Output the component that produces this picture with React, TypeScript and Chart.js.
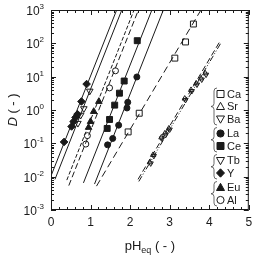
import { useEffect, useRef } from 'react';
import { Chart, registerables } from 'chart.js';

Chart.register(...registerables);

const FONT = '"Liberation Sans", Arial, Helvetica, sans-serif';
const INK = '#1a1a1a';

// Measured distribution ratios: pH_eq and D for each metal
const caPH = [1.95, 2.23, 3.13, 3.4, 3.6];
const caD = [0.22, 0.8, 36, 110, 380];
const srPH = [2.5, 2.58, 2.79, 2.88, 2.98, 3.38, 3.54, 3.67, 3.79, 3.9];
const srD = [0.027, 0.045, 0.15, 0.2, 0.28, 2.2, 4.0, 6.3, 8.9, 12.6];
const baPH = [2.52, 2.6, 2.8, 2.9, 3.0, 3.4, 3.56, 3.69, 3.81, 3.92];
const baD = [0.025, 0.042, 0.14, 0.18, 0.26, 2.0, 3.7, 5.8, 8.2, 11.5];
const laPH = [1.43, 1.56, 1.71, 1.92, 1.94, 2.17];
const laD = [0.09, 0.14, 0.35, 1.15, 1.7, 9.8];
const cePH = [1.42, 1.48, 1.61, 1.73, 1.85, 2.18];
const ceD = [0.28, 0.52, 1.4, 3.2, 7.4, 120];
const tbPH = [0.68, 0.75, 0.83, 0.98];
const tbD = [0.4, 0.7, 1.1, 3.7];
const yPH = [0.33, 0.52, 0.57, 0.62, 0.67, 0.77, 0.9];
const yD = [0.11, 0.32, 0.45, 0.6, 0.75, 1.8, 6.0];
const euPH = [0.95, 1.0, 1.08, 1.21];
const euD = [0.3, 0.45, 0.9, 1.8];
const alPH = [0.88, 0.92, 1.48, 1.63];
const alD = [0.095, 0.17, 4.6, 15];

// Correlation lines: [start, end] in pH_eq and D
const yLinePH = [0, 1.66];
const yLineD = [0.0105, 1000];
const tbLinePH = [0.1, 1.79];
const tbLineD = [0.0083, 1000];
const euLinePH = [0.4, 2.1];
const euLineD = [0.0079, 1000];
const alLinePH = [0.45, 2.21];
const alLineD = [0.0054, 1000];
const ceLinePH = [0.82, 2.55];
const ceLineD = [0.0065, 1000];
const laLinePH = [1.1, 2.84];
const laLineD = [0.006, 1000];
const caLinePH = [1.15, 3.79];
const caLineD = [0.0052, 1000];
const srLinePH = [2.2, 4.28];
const srLineD = [0.0083, 120];
const baLinePH = [2.22, 4.3];
const baLineD = [0.0072, 105];

// Axis tick labels
const xTicks = [0, 1, 2, 3, 4, 5];
const yExps = [-3, -2, -1, 0, 1, 2, 3];

type Kind = 'square' | 'circle' | 'triUp' | 'triDown' | 'diamond';

const legendGroups: { label: string; kind: Kind; filled: boolean }[][] = [
  [
    { label: 'Ca', kind: 'square', filled: false },
    { label: 'Sr', kind: 'triUp', filled: false },
    { label: 'Ba', kind: 'triDown', filled: false },
  ],
  [
    { label: 'La', kind: 'circle', filled: true },
    { label: 'Ce', kind: 'square', filled: true },
  ],
  [
    { label: 'Tb', kind: 'triDown', filled: false },
    { label: 'Y', kind: 'diamond', filled: true },
  ],
  [
    { label: 'Eu', kind: 'triUp', filled: true },
    { label: 'Al', kind: 'circle', filled: false },
  ],
];

const pts = (xs: number[], ys: number[]) => xs.map((x, i) => ({ x, y: ys[i] }));

function pointSet(xs: number[], ys: number[], style: string, filled: boolean, radius: number, rotation = 0) {
  return {
    data: pts(xs, ys),
    showLine: false,
    pointStyle: style,
    pointRotation: rotation,
    pointRadius: radius,
    pointBorderWidth: 1,
    pointBorderColor: INK,
    pointBackgroundColor: filled ? INK : 'rgba(255,255,255,0)',
  };
}

function lineSet(xs: number[], ys: number[], dash: number[]) {
  return {
    data: pts(xs, ys),
    showLine: true,
    pointRadius: 0,
    borderColor: INK,
    borderWidth: 1,
    borderDash: dash,
    fill: false,
  };
}

function drawMarker(ctx: CanvasRenderingContext2D, kind: Kind, x: number, y: number, filled: boolean) {
  ctx.beginPath();
  if (kind === 'square') ctx.rect(x - 3.5, y - 3.5, 7, 7);
  else if (kind === 'circle') ctx.arc(x, y, 3.6, 0, Math.PI * 2);
  else if (kind === 'triUp') {
    ctx.moveTo(x, y - 4.2);
    ctx.lineTo(x + 4, y + 3);
    ctx.lineTo(x - 4, y + 3);
    ctx.closePath();
  } else if (kind === 'triDown') {
    ctx.moveTo(x, y + 4.2);
    ctx.lineTo(x + 4, y - 3);
    ctx.lineTo(x - 4, y - 3);
    ctx.closePath();
  } else {
    ctx.moveTo(x, y - 4.2);
    ctx.lineTo(x + 4, y);
    ctx.lineTo(x, y + 4.2);
    ctx.lineTo(x - 4, y);
    ctx.closePath();
  }
  ctx.fillStyle = filled ? INK : '#ffffff';
  ctx.fill();
  ctx.lineWidth = 1;
  ctx.strokeStyle = INK;
  ctx.stroke();
}

function drawBrace(ctx: CanvasRenderingContext2D, x: number, top: number, bottom: number) {
  const mid = (top + bottom) / 2;
  const w = 3;
  ctx.beginPath();
  ctx.moveTo(x + w, top);
  ctx.quadraticCurveTo(x, top, x, top + 3);
  ctx.lineTo(x, mid - 3);
  ctx.quadraticCurveTo(x, mid, x - w, mid);
  ctx.quadraticCurveTo(x, mid, x, mid + 3);
  ctx.lineTo(x, bottom - 3);
  ctx.quadraticCurveTo(x, bottom, x + w, bottom);
  ctx.lineWidth = 0.8;
  ctx.strokeStyle = '#444';
  ctx.stroke();
}

const framePlugin = {
  id: 'frameTicks',
  afterDraw(chart: any) {
    const { ctx, chartArea: a, scales } = chart;
    const xs = scales.x;
    const ys = scales.y;
    ctx.save();
    ctx.strokeStyle = INK;
    ctx.lineWidth = 1;
    ctx.strokeRect(a.left + 0.5, a.top + 0.5, a.right - a.left - 1, a.bottom - a.top - 1);

    // x ticks (major every 1, minor every 0.2), bottom and top, pointing inward
    ctx.beginPath();
    for (let i = 0; i <= 25; i++) {
      const v = i * 0.2;
      const px = Math.round(xs.getPixelForValue(v)) + 0.5;
      const len = i % 5 === 0 ? 5 : 3;
      ctx.moveTo(px, a.bottom);
      ctx.lineTo(px, a.bottom - len);
      ctx.moveTo(px, a.top);
      ctx.lineTo(px, a.top + len);
    }
    // y ticks: decades and minor 2..9
    for (let e = -3; e <= 3; e++) {
      for (let m = 1; m <= 9; m++) {
        if (e === 3 && m > 1) break;
        const v = m * Math.pow(10, e);
        const py = Math.round(ys.getPixelForValue(v)) + 0.5;
        const len = m === 1 ? 5 : 3;
        ctx.moveTo(a.left, py);
        ctx.lineTo(a.left + len, py);
        ctx.moveTo(a.right, py);
        ctx.lineTo(a.right - len, py);
      }
    }
    ctx.stroke();

    // tick labels
    ctx.fillStyle = INK;
    ctx.font = `12px ${FONT}`;
    ctx.textAlign = 'center';
    ctx.textBaseline = 'top';
    xTicks.forEach((t) => {
      ctx.fillText(String(t), xs.getPixelForValue(t), a.bottom + 7);
    });
    ctx.textBaseline = 'alphabetic';
    yExps.forEach((e) => {
      const py = ys.getPixelForValue(Math.pow(10, e));
      const sup = String(e);
      ctx.font = `8px ${FONT}`;
      const sw = ctx.measureText(sup).width;
      ctx.font = `12px ${FONT}`;
      const bw = ctx.measureText('10').width;
      const right = a.left - 7;
      ctx.textAlign = 'left';
      ctx.fillText('10', right - sw - bw, py + 5);
      ctx.font = `8px ${FONT}`;
      ctx.fillText(sup, right - sw, py - 1);
    });

    // axis titles
    ctx.font = `13px ${FONT}`;
    const t1 = 'pH';
    const t3 = ' ( - )';
    const w1 = ctx.measureText(t1).width;
    const w3 = ctx.measureText(t3).width;
    ctx.font = `9px ${FONT}`;
    const w2 = ctx.measureText('eq').width;
    const total = w1 + w2 + w3;
    const cx = (a.left + a.right) / 2;
    const x0 = cx - total / 2;
    const by = 250;
    ctx.textAlign = 'left';
    ctx.font = `13px ${FONT}`;
    ctx.fillText(t1, x0, by);
    ctx.font = `9px ${FONT}`;
    ctx.fillText('eq', x0 + w1, by + 3);
    ctx.font = `13px ${FONT}`;
    ctx.fillText(t3, x0 + w1 + w2, by);

    ctx.save();
    ctx.translate(17, (a.top + a.bottom) / 2);
    ctx.rotate(-Math.PI / 2);
    ctx.font = `italic 13px ${FONT}`;
    const dW = ctx.measureText('D').width;
    ctx.font = `13px ${FONT}`;
    const rW = ctx.measureText(' ( - )').width;
    const sx = -(dW + rW) / 2;
    ctx.font = `italic 13px ${FONT}`;
    ctx.fillText('D', sx, 0);
    ctx.font = `13px ${FONT}`;
    ctx.fillText(' ( - )', sx + dW, 0);
    ctx.restore();

    // legend with braces per group
    const rowGap = 12.5;
    const groupGap = 14.5;
    let y = 94;
    ctx.font = `11px ${FONT}`;
    ctx.textBaseline = 'middle';
    legendGroups.forEach((g) => {
      const top = y - 6;
      g.forEach((item, i) => {
        const yy = y + i * rowGap;
        drawMarker(ctx, item.kind, 220.5, yy, item.filled);
        ctx.fillStyle = INK;
        ctx.textAlign = 'left';
        ctx.fillText(item.label, 227, yy + 0.5);
      });
      const bottom = y + (g.length - 1) * rowGap + 6;
      drawBrace(ctx, 214, top, bottom);
      y = y + (g.length - 1) * rowGap + groupGap;
    });
    ctx.restore();
  },
};

export default function App() {
  const ref = useRef<HTMLCanvasElement | null>(null);

  useEffect(() => {
    if (!ref.current) return;
    const chart = new Chart(ref.current, {
      type: 'scatter',
      data: {
        datasets: [
          lineSet(yLinePH, yLineD, []),
          lineSet(tbLinePH, tbLineD, []),
          lineSet(euLinePH, euLineD, [4, 2]),
          lineSet(alLinePH, alLineD, [6, 3]),
          lineSet(ceLinePH, ceLineD, []),
          lineSet(laLinePH, laLineD, []),
          lineSet(caLinePH, caLineD, [7, 4]),
          lineSet(srLinePH, srLineD, [6, 3]),
          lineSet(baLinePH, baLineD, [6, 2, 1, 2, 1, 2]),
          pointSet(caPH, caD, 'rect', false, 4.2),
          pointSet(srPH, srD, 'triangle', false, 3),
          pointSet(baPH, baD, 'triangle', false, 3, 180),
          pointSet(laPH, laD, 'circle', true, 3),
          pointSet(cePH, ceD, 'rect', true, 4.2),
          pointSet(tbPH, tbD, 'triangle', false, 3.8, 180),
          pointSet(yPH, yD, 'rectRot', true, 3.8),
          pointSet(euPH, euD, 'triangle', true, 3.8),
          pointSet(alPH, alD, 'circle', false, 3),
        ] as any,
      },
      options: {
        animation: false,
        responsive: false,
        maintainAspectRatio: false,
        layout: { padding: { left: 51, right: 4, top: 10, bottom: 47 } },
        plugins: { legend: { display: false }, tooltip: { enabled: false } },
        scales: {
          x: { type: 'linear', min: 0, max: 5, display: false },
          y: { type: 'logarithmic', min: 0.001, max: 1000, display: false },
        },
      },
      plugins: [framePlugin],
    });
    return () => chart.destroy();
  }, []);

  return (
    <div style={{ position: 'fixed', left: 0, top: 0, width: 254, height: 257, background: '#fff' }}>
      <canvas ref={ref} width={254} height={257} style={{ width: 254, height: 257, display: 'block' }} />
    </div>
  );
}
